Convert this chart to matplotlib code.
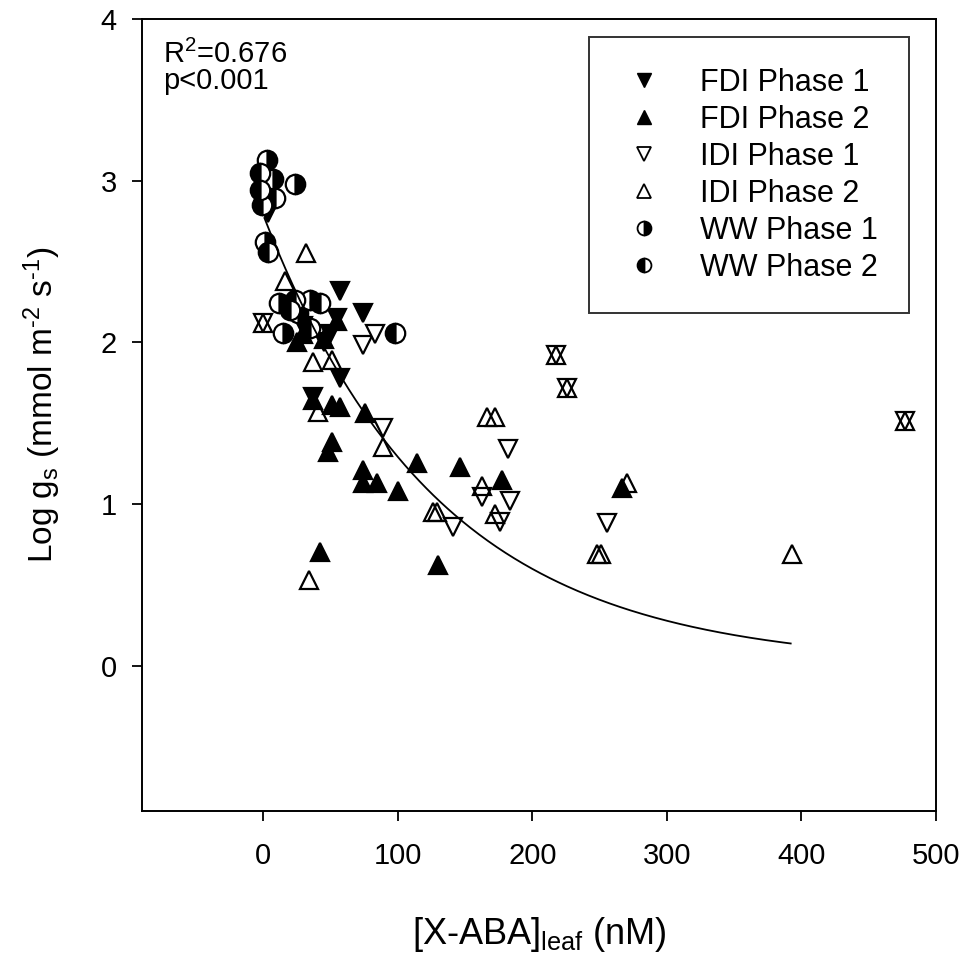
import numpy as np
import matplotlib
matplotlib.use("Agg")
import matplotlib.pyplot as plt
from matplotlib.lines import Line2D

plt.rcParams['font.family'] = ['Liberation Sans', 'DejaVu Sans']
plt.rcParams['mathtext.fontset'] = 'custom'
plt.rcParams['mathtext.rm'] = 'Liberation Sans'
plt.rcParams['mathtext.it'] = 'Liberation Sans'
plt.rcParams['axes.unicode_minus'] = False

# ---- data ----
fdi_p1_x = [4, 0, 6, 57, 74, 55, 50, 45, 57, 37, 30]
fdi_p1_y = [2.80, 3.00, 2.93, 2.32, 2.18, 2.15, 2.05, 2.00, 1.78, 1.66, 2.10]

fdi_p2_x = [2, 57, 51, 76, 51, 48, 74, 74, 85, 100, 114, 146, 42, 130, 177.5, 267, 37, 55, 45, 30, 25]
fdi_p2_y = [3.02, 1.60, 1.61, 1.56, 1.38, 1.32, 1.21, 1.13, 1.13, 1.08, 1.25, 1.23, 0.70, 0.62, 1.15, 1.10, 1.64, 2.13, 2.02, 2.05, 2.00]

idi_p1_x = [74, 83, 89, 141, 182, 163, 183.5, 176, 255.5, 218, 226, 477, 0]
idi_p1_y = [1.98, 2.05, 1.47, 0.86, 1.34, 1.04, 1.02, 0.89, 0.88, 1.92, 1.72, 1.51, 2.12]

idi_p2_x = [32, 16, 37, 51, 41, 89, 34, 166, 172, 163, 172, 126, 129, 248, 251, 393, 270.5, 218, 226, 477, 0]
idi_p2_y = [2.55, 2.38, 1.88, 1.89, 1.57, 1.35, 0.53, 1.54, 1.54, 1.11, 0.94, 0.95, 0.95, 0.69, 0.69, 0.69, 1.13, 1.92, 1.72, 1.51, 2.12]

ww_p1_x = [3, 24, 7, 1.5, 12, 35, 15, 26]
ww_p1_y = [3.13, 2.98, 3.01, 2.62, 2.24, 2.26, 2.06, 2.18]

ww_p2_x = [-2, 9, -1, 4, -2, 98, 24, 42, 35, 20]
ww_p2_y = [3.05, 2.89, 2.85, 2.56, 2.94, 2.06, 2.26, 2.24, 2.09, 2.20]

# exponential decay fit y = a*exp(-b*x)
fit_a = 2.79
fit_b = 0.0077
fit_xmin, fit_xmax = 1, 392

fig = plt.figure(figsize=(9.71, 9.55), dpi=100)
ax = fig.add_axes([0.1462, 0.1508, 0.8178, 0.8293])

ms_tri = 13
ms_circ = 14
mew = 1.6

ax.plot(fdi_p1_x, fdi_p1_y, 'v', ls='none', ms=ms_tri, mfc='black', mec='black', mew=mew, zorder=3)
ax.plot(fdi_p2_x, fdi_p2_y, '^', ls='none', ms=ms_tri, mfc='black', mec='black', mew=mew, zorder=3)
ax.plot(idi_p1_x, idi_p1_y, 'v', ls='none', ms=ms_tri, mfc='white', mec='black', mew=mew, zorder=3)
ax.plot(idi_p2_x, idi_p2_y, '^', ls='none', ms=ms_tri, mfc='none', mec='black', mew=mew, zorder=3)
ax.plot(ww_p1_x, ww_p1_y, 'o', ls='none', ms=ms_circ, fillstyle='right', mfc='black', mfcalt='white', mec='black', mew=mew, zorder=3)
ax.plot(ww_p2_x, ww_p2_y, 'o', ls='none', ms=ms_circ, fillstyle='left', mfc='black', mfcalt='white', mec='black', mew=mew, zorder=3)

xf = np.linspace(fit_xmin, fit_xmax, 300)
ax.plot(xf, fit_a * np.exp(-fit_b * xf), color='black', lw=1.3, zorder=4)

ax.set_xlim(-90, 500)
ax.set_ylim(-0.9, 4)
ax.set_xticks([0, 100, 200, 300, 400, 500])
ax.set_yticks([0, 1, 2, 3, 4])
ax.tick_params(direction='out', length=7, width=1.3, labelsize=21, pad=11,
               top=False, right=False)
ax.tick_params(axis='x', pad=15)
for s in ax.spines.values():
    s.set_linewidth(1.4)

ax.set_xlabel(r'[X-ABA]$_{\mathregular{leaf}}$ (nM)', fontsize=26, labelpad=33)
ax.set_ylabel(r'Log g$_{\mathregular{s}}$ (mmol m$^{\text{-2}}$ s$^{\text{-1}}$)', fontsize=24)
ax.yaxis.set_label_coords(-0.099, 0.513)

ax.text(0.026, 0.944, r'R$^{\mathregular{2}}$=0.676', transform=ax.transAxes, fontsize=21, va='baseline', ha='left')
ax.text(0.026, 0.912, 'p<0.001', transform=ax.transAxes, fontsize=21, va='baseline', ha='left')

handles = [
    Line2D([], [], marker='v', ls='none', ms=10, mfc='black', mec='black'),
    Line2D([], [], marker='^', ls='none', ms=10, mfc='black', mec='black'),
    Line2D([], [], marker='v', ls='none', ms=10, mfc='white', mec='black', mew=1.3),
    Line2D([], [], marker='^', ls='none', ms=10, mfc='white', mec='black', mew=1.3),
    Line2D([], [], marker='o', ls='none', ms=10, fillstyle='right', mfc='black', mfcalt='white', mec='black', mew=1.3),
    Line2D([], [], marker='o', ls='none', ms=10, fillstyle='left', mfc='black', mfcalt='white', mec='black', mew=1.3),
]
labels = ['FDI Phase 1', 'FDI Phase 2', 'IDI Phase 1', 'IDI Phase 2', 'WW Phase 1', 'WW Phase 2']
leg = ax.legend(handles, labels, loc='upper right', bbox_to_anchor=(0.9655, 0.977), fontsize=22,
                frameon=True, fancybox=False, edgecolor='black', borderpad=1.0,
                labelspacing=0.23, handletextpad=1.0, borderaxespad=0, handlelength=1.65)
leg.get_frame().set_linewidth(1.4)

fig.savefig('out.png', dpi=100)
